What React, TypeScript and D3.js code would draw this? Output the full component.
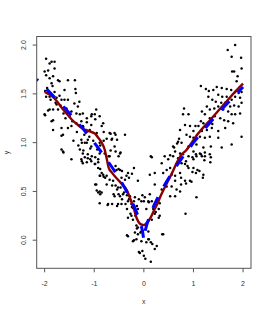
import React from 'react';
import * as d3 from 'd3';

// observed points [x, y]
const obs: [number, number][] = [
  // left branch, upper part
  [-1.97, 1.86], [-1.9, 1.81], [-1.86, 1.83], [-1.8, 1.83], [-2.0, 1.73], [-1.93, 1.74], [-1.97, 1.69],
  [-1.9, 1.66], [-1.8, 1.76], [-1.83, 1.68], [-1.86, 1.61], [-1.73, 1.64], [-1.7, 1.63], [-1.53, 1.64],
  [-1.39, 1.64], [-1.6, 1.54], [-1.37, 1.51], [-1.97, 1.47], [-1.9, 1.47], [-1.76, 1.46], [-1.66, 1.44],
  [-1.6, 1.44], [-1.53, 1.44], [-2.0, 1.29], [-1.9, 1.34], [-1.83, 1.34], [-1.76, 1.39], [-1.73, 1.34],
  [-1.83, 1.23], [-1.83, 1.13], [-1.66, 1.15], [-1.53, 1.15], [-1.46, 1.17], [-1.36, 1.2], [-1.56, 1.35],
  [-1.46, 1.32], [-1.36, 1.3], [-1.33, 1.37], [-1.29, 1.29], [-1.23, 1.3], [-1.15, 1.25], [-1.06, 1.27],
  [-0.99, 1.29], [-1.63, 1.08], [-1.66, 0.93], [-1.63, 0.91], [-1.46, 0.83], [-1.23, 1.17], [-1.16, 1.13],
  [-1.09, 1.13], [-1.06, 1.18], [-1.26, 1.03], [-1.19, 1.0], [-1.13, 1.03], [-1.06, 0.96], [-1.29, 0.93],
  [-1.23, 0.89], [-1.13, 0.88], [-0.89, 1.0], [-0.82, 1.2], [-0.69, 1.1], [-0.59, 1.1], [-0.65, 1.03],
  [-0.59, 0.96], [-0.48, 0.89], [-0.38, 1.08], [-0.79, 0.89], [-0.69, 0.86], [-0.89, 0.89], [-1.38, 1.55],
  [-0.96, 1.34], [-0.89, 1.27], [-1.99, 1.53], [-1.99, 1.28], [-1.93, 1.33], [-1.86, 1.22], [-0.85, 1.17],
  [-0.81, 1.11], [-0.98, 1.24], [-1.05, 1.29], [-1.15, 1.21], [-1.22, 1.16], [-1.29, 1.17], [-1.35, 1.11],
  [-1.25, 1.0], [-1.15, 1.0], [-1.08, 0.94], [-1.22, 0.92], [-1.42, 1.02], [-1.32, 0.97], [-1.66, 1.07],
  [-0.88, 0.97], [-0.81, 1.02], [-0.75, 1.04], [-1.95, 1.56], [-1.92, 1.5], [-1.88, 1.44], [-1.8, 1.52],
  [-1.84, 1.58], [-1.78, 1.41], [-1.7, 1.48], [-1.68, 1.38], [-1.62, 1.3], [-1.58, 1.25], [-1.5, 1.27],
  [-1.44, 1.22], [-1.4, 1.4], [-1.3, 1.42], [-1.26, 1.22], [-1.2, 1.08], [-1.1, 1.06], [-1.02, 1.02],
  [-0.95, 1.1], [-0.94, 0.93], [-0.67, 1.09], [-0.57, 1.08], [-0.64, 1.04], [-0.54, 1.03], [-0.67, 0.92],
  [-0.57, 0.91],
  // left branch, lower part
  [-1.26, 0.83], [-1.23, 0.79], [-1.13, 0.84], [-1.06, 0.81], [-0.99, 0.78], [-0.92, 0.83], [-0.92, 0.74],
  [-0.89, 0.66], [-0.82, 0.67], [-0.75, 0.66], [-0.96, 0.57], [-0.89, 0.5], [-0.92, 0.49], [-0.85, 0.49],
  [-0.69, 0.62], [-0.62, 0.61], [-0.55, 0.72], [-0.48, 0.72], [-0.45, 0.64], [-0.38, 0.62], [-0.35, 0.66],
  [-0.32, 0.69], [-0.52, 0.54], [-0.59, 0.45], [-0.48, 0.45], [-0.42, 0.47], [-0.35, 0.5], [-0.32, 0.4],
  [-0.28, 0.45], [-0.52, 0.37], [-0.45, 0.37], [-0.25, 0.37], [-0.22, 0.33], [-0.89, 0.38], [-0.72, 0.37],
  [-0.32, 0.23], [-0.25, 0.25], [-0.22, 0.21], [-0.32, 0.04], [-0.22, -0.01], [-1.62, 0.9], [-1.25, 0.81],
  [-1.19, 0.85], [-1.15, 0.8], [-1.08, 0.83], [-1.05, 0.86], [-0.98, 0.85], [-0.98, 0.78], [-0.92, 0.8],
  [-0.88, 0.73], [-0.85, 0.69], [-0.88, 0.66], [-0.81, 0.65], [-0.78, 0.64], [-0.98, 0.57], [-0.75, 0.57],
  [-0.95, 0.51], [-0.88, 0.47], [-0.73, 0.36],
  // centre
  [-0.71, 0.86], [-0.51, 0.86], [-0.47, 0.9], [0.16, 0.85], [-0.57, 0.76], [-0.51, 0.73], [-0.44, 0.71],
  [-0.3, 0.64], [-0.24, 0.68], [-0.2, 0.74], [-0.64, 0.56], [-0.57, 0.56], [-0.54, 0.52], [-0.47, 0.54],
  [-0.61, 0.47], [-0.51, 0.47], [-0.4, 0.49], [-0.34, 0.46], [-0.44, 0.42], [-0.3, 0.42], [-0.2, 0.4],
  [-0.1, 0.42], [-0.03, 0.46], [0.0, 0.4], [-0.64, 0.37], [-0.54, 0.35], [-0.37, 0.37], [-0.34, 0.32],
  [-0.24, 0.34], [-0.14, 0.35], [-0.27, 0.27], [-0.17, 0.25], [-0.34, 0.05], [-0.2, 0.0], [-0.14, 0.12],
  [-0.07, 0.08], [-0.1, -0.12], [-0.03, -0.11], [0.0, -0.16], [0.03, -0.19], [0.14, -0.22], [0.1, 0.01],
  [0.14, -0.02], [0.17, -0.04], [0.37, 0.06], [0.3, 0.23], [0.24, 0.29], [0.3, 0.32], [0.1, 0.39],
  // right branch, lower part
  [0.14, 0.86], [0.42, 0.86], [0.49, 0.83], [0.59, 0.86], [0.69, 0.84], [0.9, 0.86], [1.0, 0.83],
  [1.06, 0.86], [1.17, 0.86], [1.23, 0.86], [1.35, 0.85], [0.36, 0.79], [0.46, 0.72], [0.53, 0.74],
  [0.66, 0.78], [0.76, 0.79], [0.83, 0.78], [0.9, 0.74], [1.0, 0.74], [1.08, 0.72], [1.2, 0.67],
  [0.22, 0.69], [0.12, 0.67], [0.39, 0.69], [0.56, 0.67], [0.63, 0.66], [0.73, 0.69], [0.83, 0.61],
  [0.93, 0.61], [0.63, 0.61], [-0.12, 0.61], [0.22, 0.57], [0.46, 0.55], [0.56, 0.55], [0.66, 0.52],
  [0.73, 0.5], [0.63, 0.45], [0.53, 0.45], [0.36, 0.52], [0.12, 0.47], [0.02, 0.44], [-0.05, 0.4],
  [-0.18, 0.44], [0.09, 0.4], [0.16, 0.4], [0.32, 0.38], [1.06, 0.44], [-0.12, 0.32], [0.05, 0.32],
  [0.19, 0.32], [0.22, 0.27], [0.32, 0.25], [-0.15, 0.27], [0.84, 0.27], [0.09, 0.2], [0.16, 0.21],
  [-0.15, 0.15], [-0.12, 0.13], [-0.05, 0.09], [-0.18, 0.08], [-0.12, 0.06], [0.09, 0.09], [0.39, 0.06],
  [-0.15, 0.01], [-0.05, -0.01], [0.09, 0.01], [0.26, -0.06], [0.22, -0.09], [-0.08, -0.13],
  [0.05, -0.02], [0.98, 0.85], [1.05, 0.88], [1.15, 0.88], [1.22, 0.82], [1.34, 0.8], [0.85, 0.81],
  [0.98, 0.7], [1.05, 0.69], [0.88, 0.76], [1.12, 0.71], [1.19, 0.64], [0.75, 0.64], [0.85, 0.58],
  [0.96, 0.6], [0.75, 0.57],
  // right branch, upper part
  [1.84, 2.0], [1.69, 1.95], [1.77, 1.88], [1.96, 1.87], [1.97, 1.76], [1.78, 1.73], [1.82, 1.73],
  [1.89, 1.68], [1.87, 1.63], [1.15, 1.58], [1.25, 1.55], [1.31, 1.53], [1.4, 1.54], [1.47, 1.57],
  [1.57, 1.56], [1.67, 1.55], [1.76, 1.54], [1.84, 1.52], [1.91, 1.51], [1.97, 1.52], [1.5, 1.49],
  [1.58, 1.47], [1.67, 1.47], [1.77, 1.44], [1.84, 1.47], [1.94, 1.46], [1.97, 1.41], [1.3, 1.47],
  [1.38, 1.44], [1.45, 1.42], [1.56, 1.41], [1.64, 1.41], [1.74, 1.37], [1.82, 1.38], [1.91, 1.37],
  [1.94, 1.3], [1.84, 1.29], [1.77, 1.29], [1.7, 1.32], [1.6, 1.34], [1.5, 1.37], [1.42, 1.35],
  [1.33, 1.34], [1.27, 1.37], [1.17, 1.32], [0.81, 1.35], [0.79, 1.29], [0.9, 1.29], [1.23, 1.29],
  [1.33, 1.25], [1.43, 1.27], [1.54, 1.25], [1.62, 1.23], [1.7, 1.22], [1.8, 1.2], [1.15, 1.22],
  [1.2, 1.2], [1.27, 1.18], [1.38, 1.19], [1.04, 1.17], [1.1, 1.17], [0.93, 1.17], [0.83, 1.18],
  [0.73, 1.13], [1.0, 1.12], [1.17, 1.12], [1.27, 1.13], [1.37, 1.15], [1.5, 1.12], [1.64, 1.15],
  [1.97, 1.06], [0.86, 1.08], [0.93, 1.06], [1.0, 1.05], [1.13, 1.06], [1.23, 1.05], [1.33, 1.06],
  [1.5, 1.05], [0.69, 1.01], [0.76, 1.0], [0.9, 0.96], [1.06, 0.98], [1.2, 0.95], [1.35, 0.96],
  [1.57, 0.95], [1.77, 0.98], [0.59, 0.96], [0.63, 0.91], [0.73, 0.89], [0.79, 0.88], [1.0, 0.91],
  [1.13, 0.89], [1.23, 0.9], [1.33, 0.88], [0.53, 0.87], [0.71, 1.04], [0.61, 0.95], [0.67, 0.99],
];

// true curve (blue dashed)
const trueX = [-2.16, -2.0, -1.8, -1.6, -1.4, -1.2, -1.0, -0.8, -0.6, -0.45, -0.3, -0.2, -0.12, -0.06, -0.03, 0,
  0.03, 0.06, 0.12, 0.2, 0.3, 0.45, 0.6, 0.8, 1.0, 1.2, 1.4, 1.6, 1.8, 2.0];
const trueY = [1.65, 1.57, 1.465, 1.357, 1.244, 1.126, 1.0, 0.865, 0.717, 0.595, 0.457, 0.351, 0.252, 0.161, 0.102, 0,
  0.102, 0.161, 0.252, 0.351, 0.457, 0.595, 0.717, 0.865, 1.0, 1.126, 1.244, 1.357, 1.465, 1.57];

// smooth fit (dark red)
const fitX = [-2.0, -1.86, -1.76, -1.66, -1.56, -1.46, -1.35, -1.22, -1.09, -0.98, -0.92, -0.85, -0.79, -0.75,
  -0.71, -0.64, -0.54, -0.44, -0.34, -0.27, -0.2, -0.14, -0.07, 0, 0.07, 0.14, 0.2, 0.27, 0.34, 0.4, 0.47,
  0.57, 0.67, 0.74, 0.85, 1.09, 1.35, 1.62, 1.82, 2.0];
const fitY = [1.52, 1.48, 1.43, 1.36, 1.3, 1.24, 1.19, 1.14, 1.115, 1.09, 1.05, 1.0, 0.93, 0.84, 0.745, 0.69,
  0.63, 0.575, 0.51, 0.42, 0.32, 0.22, 0.165, 0.155, 0.185, 0.235, 0.3, 0.37, 0.455, 0.52, 0.59, 0.69, 0.8,
  0.865, 0.92, 1.09, 1.24, 1.395, 1.51, 1.605];

const xTicks = [-2, -1, 0, 1, 2];
const yTicks = [0, 0.5, 1, 1.5, 2];

export default function App() {
  const W = 270, H = 315;
  const left = 36.7, right = 251, top = 36.5, bottom = 268.3;
  const x = d3.scaleLinear().domain([-2.16, 2.16]).range([left, right]);
  const y = d3.scaleLinear().domain([-0.288, 2.088]).range([bottom, top]);

  const line = d3.line<[number, number]>().x(d => x(d[0])).y(d => y(d[1]));
  const truePath = line(trueX.map((v, i) => [v, trueY[i]] as [number, number]));
  const fitPath = line.curve(d3.curveMonotoneX)(fitX.map((v, i) => [v, fitY[i]] as [number, number]));

  const font = "'Liberation Sans', Arial, sans-serif";

  return (
    <svg width={W} height={H} style={{ position: 'absolute', left: 0, top: 0, background: '#fff' }}
      fontFamily={font}>
      <defs>
        <clipPath id="plotArea">
          <rect x={left} y={top} width={right - left} height={bottom - top} />
        </clipPath>
      </defs>

      {/* points */}
      <g fill="#000">
        {obs.map((d, i) => (
          <circle key={i} cx={x(d[0])} cy={y(d[1])} r={1.25} />
        ))}
      </g>

      {/* lines: smooth fit, then the dashed true curve on top */}
      <g clipPath="url(#plotArea)" fill="none">
        <path d={fitPath ?? ''} stroke="#8b0000" strokeWidth={2.4} strokeLinejoin="round" />
        <path d={truePath ?? ''} stroke="#0000ff" strokeWidth={3} strokeDasharray="12,12" strokeDashoffset={10} />
      </g>

      {/* box */}
      <rect x={left} y={top} width={right - left} height={bottom - top} fill="none" stroke="#555" strokeWidth={1} />

      {/* x axis */}
      <g stroke="#555">
        {xTicks.map(t => (
          <line key={t} x1={x(t)} x2={x(t)} y1={bottom} y2={bottom + 4} />
        ))}
      </g>
      <g fontSize={7} fill="#333" textAnchor="middle">
        {xTicks.map(t => (
          <text key={t} x={x(t)} y={285.5}>{String(t)}</text>
        ))}
        <text x={(left + right) / 2} y={303.5}>x</text>
      </g>

      {/* y axis */}
      <g stroke="#555">
        {yTicks.map(t => (
          <line key={t} x1={left - 4} x2={left} y1={y(t)} y2={y(t)} />
        ))}
      </g>
      <g fontSize={7} fill="#333" textAnchor="middle">
        {yTicks.map(t => (
          <text key={t} transform={`translate(25.5,${y(t)}) rotate(-90)`}>{d3.format('.1f')(t)}</text>
        ))}
        <text transform={`translate(8.5,${(top + bottom) / 2}) rotate(-90)`}>y</text>
      </g>
    </svg>
  );
}
